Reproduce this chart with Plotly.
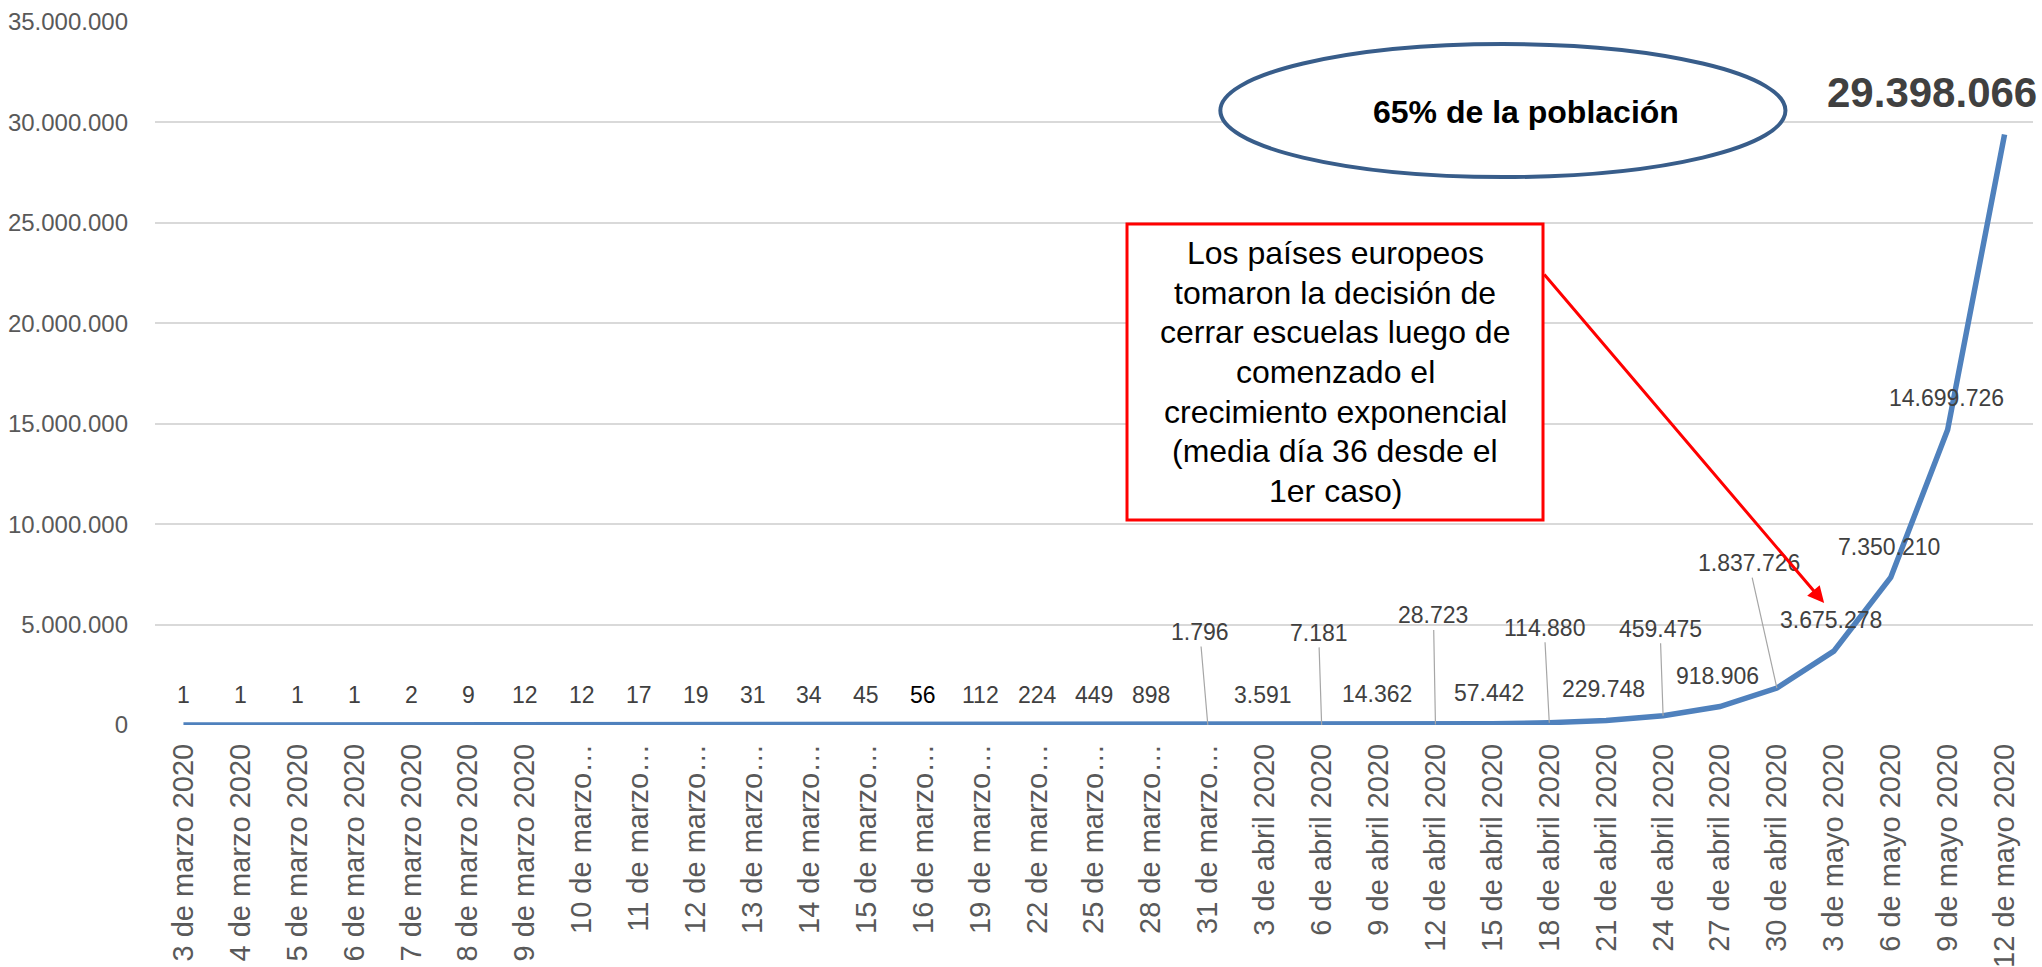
import plotly.graph_objects as go

# ---------------- data ----------------
categories = [
    "3 de marzo 2020", "4 de marzo 2020", "5 de marzo 2020", "6 de marzo 2020",
    "7 de marzo 2020", "8 de marzo 2020", "9 de marzo 2020", "10 de marzo 2020",
    "11 de marzo 2020", "12 de marzo 2020", "13 de marzo 2020", "14 de marzo 2020",
    "15 de marzo 2020", "16 de marzo 2020", "19 de marzo 2020", "22 de marzo 2020",
    "25 de marzo 2020", "28 de marzo 2020", "31 de marzo 2020", "3 de abril 2020",
    "6 de abril 2020", "9 de abril 2020", "12 de abril 2020", "15 de abril 2020",
    "18 de abril 2020", "21 de abril 2020", "24 de abril 2020", "27 de abril 2020",
    "30 de abril 2020", "3 de mayo 2020", "6 de mayo 2020", "9 de mayo 2020",
    "12 de mayo 2020",
]
# labels as displayed on the axis (long ones truncated)
tick_labels = [
    "3 de marzo 2020", "4 de marzo 2020", "5 de marzo 2020", "6 de marzo 2020",
    "7 de marzo 2020", "8 de marzo 2020", "9 de marzo 2020", "10 de marzo…",
    "11 de marzo…", "12 de marzo…", "13 de marzo…", "14 de marzo…",
    "15 de marzo…", "16 de marzo…", "19 de marzo…", "22 de marzo…",
    "25 de marzo…", "28 de marzo…", "31 de marzo…", "3 de abril 2020",
    "6 de abril 2020", "9 de abril 2020", "12 de abril 2020", "15 de abril 2020",
    "18 de abril 2020", "21 de abril 2020", "24 de abril 2020", "27 de abril 2020",
    "30 de abril 2020", "3 de mayo 2020", "6 de mayo 2020", "9 de mayo 2020",
    "12 de mayo 2020",
]
casos = [
    1, 1, 1, 1, 2, 9, 12, 12, 17, 19, 31, 34, 45, 56, 112, 224, 449, 898,
    1796, 3591, 7181, 14362, 28723, 57442, 114880, 229748, 459475, 918906,
    1837726, 3675278, 7350210, 14699726, 29398066,
]
y_ticks = [0, 5000000, 10000000, 15000000, 20000000, 25000000, 30000000, 35000000]

nota_poblacion = "65% de la población"
nota_escuelas = [
    "Los países europeos",
    "tomaron la decisión de",
    "cerrar escuelas luego de",
    "comenzado el",
    "crecimiento exponencial",
    "(media día 36 desde el",
    "1er caso)",
]

# ---------------- label placement (pixel offsets from the point) ----------------
label_offsets = [(0, -30)] * 18 + [
    (-8, -93), (-2, -30), (-3, -92), (-2, -31), (-2, -109), (-3, -31), (-5, -95),
    (-3, -31), (-3, -87), (-3, -31), (-28, -125), (-3, -31), (-2, -30), (-1, -32),
    (-73, -42),
]
leader = [False] * 18 + [True, False, True, False, True, False, True,
                         False, True, False, True, False, False, False, False]

FONT = "Liberation Sans, Arial, sans-serif"
LBL = "#404040"


def fmt(v):
    return f"{v:,}".replace(",", ".")


x_idx = list(range(len(categories)))

fig = go.Figure()
fig.add_trace(go.Scatter(
    x=x_idx, y=casos, mode="lines",
    line=dict(color="#4F81BD", width=5.5),
    hoverinfo="skip", showlegend=False,
))

annotations = []
for i, v in enumerate(casos):
    dx, dy = label_offsets[i]
    size = 23
    color = LBL
    text = fmt(v)
    if i == len(casos) - 1:
        size = 42
        text = "<b>" + text + "</b>"
    if v == 56:
        color = "#000000"
    if leader[i]:
        annotations.append(dict(
            x=i, y=v, xref="x", yref="y", text=text, showarrow=True,
            arrowhead=0, arrowwidth=1.2, arrowcolor="#A6A6A6",
            ax=dx, ay=dy, standoff=0, startstandoff=0,
            font=dict(family=FONT, size=size, color=color),
        ))
    else:
        annotations.append(dict(
            x=i, y=v, xref="x", yref="y", text=text, showarrow=False,
            xshift=dx, yshift=-dy,
            font=dict(family=FONT, size=size, color=color),
        ))

# ellipse note
fig.add_shape(type="circle", xref="x", yref="y",
              x0=18.22, x1=28.15, y0=27.28e6, y1=33.9e6,
              line=dict(color="#385D8A", width=4), fillcolor="white", layer="above")
annotations.append(dict(x=23.59, y=30.52e6, xref="x", yref="y",
                        text="<b>" + nota_poblacion + "</b>",
                        showarrow=False, font=dict(family=FONT, size=32, color="#000000")))

# red box note
box_x0, box_x1, box_y0, box_y1 = 16.58, 23.89, 10.21e6, 24.94e6
fig.add_shape(type="rect", xref="x", yref="y",
              x0=box_x0, x1=box_x1, y0=box_y0, y1=box_y1,
              line=dict(color="#FF0000", width=3), fillcolor="white", layer="above")
n_lines = len(nota_escuelas)
line_gap = 39.6
for k, line in enumerate(nota_escuelas):
    annotations.append(dict(
        x=(box_x0 + box_x1) / 2, y=(box_y0 + box_y1) / 2, xref="x", yref="y",
        text=line, showarrow=False,
        yshift=((n_lines - 1) / 2 - k) * line_gap,
        font=dict(family=FONT, size=32, color="#000000"),
    ))
# red arrow
annotations.append(dict(x=28.83, y=6.07e6, xref="x", yref="y",
                        ax=box_x1, ay=22.5e6, axref="x", ayref="y",
                        text="", showarrow=True, arrowhead=2, arrowsize=1.1,
                        arrowwidth=3, arrowcolor="#FF0000", standoff=0))

fig.update_layout(
    width=2042, height=967,
    margin=dict(l=155, r=9, t=22, b=242),
    paper_bgcolor="white", plot_bgcolor="white",
    separators=",.",
    showlegend=False,
    annotations=annotations,
    font=dict(family=FONT),
)
fig.update_xaxes(
    range=[-0.5, len(categories) - 0.5],
    tickmode="array", tickvals=x_idx, ticktext=tick_labels,
    tickangle=-90, showgrid=False, zeroline=False, showline=False,
    ticks="", tickfont=dict(family=FONT, size=29, color="#595959"),
    ticklabelstandoff=12, automargin=False,
)
fig.update_yaxes(
    range=[0, 35000000], tickvals=y_ticks, tickformat=",.0f",
    showgrid=True, gridcolor="#D9D9D9", gridwidth=2,
    zeroline=False, showline=False, ticks="",
    tickfont=dict(family=FONT, size=24, color="#595959"),
    ticklabelstandoff=26, automargin=False,
)

fig.write_html("out.html", config={"displayModeBar": False},
               post_script="document.body.style.margin='0';document.body.style.overflow='hidden';")
